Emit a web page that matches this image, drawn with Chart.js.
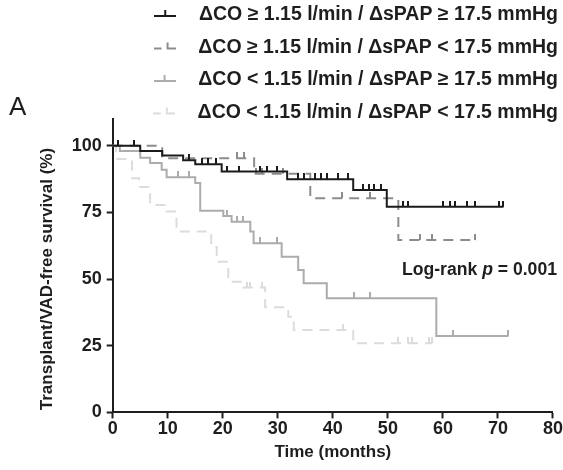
<!DOCTYPE html>
<html>
<head>
<meta charset="utf-8">
<script src="https://cdn.jsdelivr.net/npm/chart.js@4.4.0/dist/chart.umd.min.js"></script>
<style>
  html, body { margin: 0; padding: 0; background: #fff; }
</style>
</head>
<body>
<canvas id="km" width="563" height="470"></canvas>
<script>
const FONT = "'Liberation Sans', Arial, Helvetica, sans-serif";
const INK = '#1e1e1e';

const groupLabels = [
  'ΔCO ≥ 1.15 l/min / ΔsPAP ≥ 17.5 mmHg',
  'ΔCO ≥ 1.15 l/min / ΔsPAP < 17.5 mmHg',
  'ΔCO < 1.15 l/min / ΔsPAP ≥ 17.5 mmHg',
  'ΔCO < 1.15 l/min / ΔsPAP < 17.5 mmHg'
];

// step curves: month of each drop and survival (%) right after it, last entry = end of follow-up
const timesA = [0, 5, 9, 12.8, 15, 19.8, 31.7, 43.7, 49.8, 71];
const survA  = [100, 98, 96.3, 94.5, 93, 90.3, 87.4, 83.4, 77.1, 77.1];
const censorA = [1, 3.8, 13.9, 16.2, 17.4, 18.8, 20.7, 22.9, 26.8, 28, 29.8, 33.7, 34.8, 36.7, 37.9,
                 38.9, 40.9, 42.8, 45.5, 46.5, 47.5, 48.8, 52.8, 53.7, 60.1, 61.3, 62.2, 64.4, 65.9, 70.1, 71];

const timesB = [0, 9, 25.7, 35.9, 51.9, 65.9];
const survB  = [100, 95.3, 89.5, 80.3, 64.6, 64.6];
const censorB = [22.6, 23.9, 26, 27.2, 31, 41.6, 46.8, 55.9, 58, 65.9];

const timesC = [0, 1.3, 5, 6.8, 8.9, 9.8, 15, 15.9, 20.1, 21.6, 25, 25.6, 30.7, 33.7, 34.7, 38.9, 58.8, 71.9];
const survC  = [100, 98, 95.5, 93.5, 91, 88.2, 86, 75.6, 73.6, 71.5, 67.8, 63.4, 58.4, 53.4, 48.4, 42.8, 28.6, 28.6];
const censorC = [11.9, 13.9, 20.7, 22.5, 23.7, 26.8, 29.8, 43.9, 46.8, 61.9, 71.9];

const timesD = [0, 0.6, 3.5, 4.8, 6.8, 9.8, 11.6, 17.9, 18.9, 21, 23.7, 27.7, 31.9, 32.9, 43.7, 58];
const survD  = [100, 95, 87.8, 84.5, 77.8, 75.3, 67.8, 62, 56.5, 49, 46.8, 39.4, 35.9, 30.9, 25.9, 25.9];
const censorD = [24.4, 25, 27.1, 41.9, 51.9, 53.7, 54.4, 57.4, 58];

const yTicks = [0, 25, 50, 75, 100];

const groups = [
  { label: groupLabels[0], times: timesA, surv: survA, censor: censorA, color: '#1b1b1b', dash: [] },
  { label: groupLabels[1], times: timesB, surv: survB, censor: censorB, color: '#8c8c8c', dash: [10, 7] },
  { label: groupLabels[2], times: timesC, surv: survC, censor: censorC, color: '#acacac', dash: [] },
  { label: groupLabels[3], times: timesD, surv: survD, censor: censorD, color: '#dcdcdc', dash: [10, 7] }
];

// survival level of a curve at month t
function levelAt(times, surv, t) {
  let s = surv[0];
  for (let i = 0; i < times.length; i++) if (times[i] <= t) s = surv[i];
  return s;
}

// small upward tick used as the censoring mark
function censorMark(color) {
  const c = document.createElement('canvas');
  c.width = 2; c.height = 12;
  const g = c.getContext('2d');
  g.fillStyle = color;
  g.fillRect(0, 0, 2, 6);
  return c;
}

// line sample with a tick for the legend
function legendSample(color, dashed) {
  const c = document.createElement('canvas');
  c.width = 22; c.height = 12;
  const g = c.getContext('2d');
  g.fillStyle = color;
  if (dashed) { g.fillRect(0, 6, 8, 2); g.fillRect(13, 6, 9, 2); g.fillRect(13, 1, 2, 6); }
  else { g.fillRect(0, 6, 22, 2); g.fillRect(10, 1, 2, 6); }
  return c;
}

const datasets = [];
groups.forEach(g => {
  datasets.push({
    label: g.label,
    data: g.times.map((t, i) => ({ x: t, y: g.surv[i] })),
    stepped: 'before',
    borderColor: g.color,
    borderWidth: 2,
    borderDash: g.dash,
    pointRadius: 0,
    fill: false
  });
  datasets.push({
    label: g.label + ' censored',
    data: g.censor.map(t => ({ x: t, y: levelAt(g.times, g.surv, t) })),
    showLine: false,
    pointStyle: censorMark(g.color),
    pointRadius: 3,
    borderColor: g.color,
    backgroundColor: g.color
  });
});

const annotate = {
  id: 'annotate',
  afterLayout(chart) {
    // let the last legend row's descenders run past the legend box
    chart.legend.bottom += 8;
  },
  afterDraw(chart) {
    const { ctx, scales: { y } } = chart;
    ctx.save();
    ctx.fillStyle = INK;

    // y title, centred on the 0-100 % range
    ctx.save();
    ctx.font = `bold 17px ${FONT}`;
    ctx.translate(47, y.getPixelForValue(50));
    ctx.rotate(-Math.PI / 2);
    ctx.textAlign = 'center';
    ctx.textBaseline = 'middle';
    ctx.fillText('Transplant/VAD-free survival (%)', 0, 0);
    ctx.restore();

    // panel letter
    ctx.font = `26px ${FONT}`;
    ctx.textBaseline = 'alphabetic';
    ctx.fillText('A', 9, 115);

    // log-rank result with italic p
    let x = 402;
    const base = 275;
    ctx.font = `bold 17.6px ${FONT}`;
    ctx.fillText('Log-rank ', x, base);
    x += ctx.measureText('Log-rank ').width;
    ctx.font = `italic bold 17.6px ${FONT}`;
    ctx.fillText('p', x, base);
    x += ctx.measureText('p').width;
    ctx.font = `bold 17.6px ${FONT}`;
    ctx.fillText(' = 0.001', x, base);
    ctx.restore();
  }
};

new Chart(document.getElementById('km'), {
  type: 'line',
  data: { datasets },
  plugins: [annotate],
  options: {
    responsive: false,
    animation: false,
    layout: { padding: { top: -7.75, right: -8, left: 0, bottom: 0 } },
    plugins: {
      tooltip: { enabled: false },
      legend: {
        position: 'top',
        align: 'end',
        maxHeight: 126.75,
        labels: {
          usePointStyle: true,
          pointStyleWidth: 48,
          boxHeight: 19.5,
          padding: 13,
          color: INK,
          font: { family: FONT, size: 19.5, weight: 'bold' },
          generateLabels: () => groups.map((g, i) => ({
            text: g.label,
            pointStyle: legendSample(g.color, g.dash.length > 0),
            fillStyle: g.color,
            strokeStyle: g.color,
            lineWidth: 0,
            hidden: false,
            datasetIndex: i * 2,
            fontColor: INK
          }))
        }
      }
    },
    scales: {
      x: {
        type: 'linear',
        min: 0,
        max: 80,
        ticks: { stepSize: 10, padding: 0, color: INK, font: { family: FONT, size: 18, weight: 'bold' } },
        grid: { drawOnChartArea: false, tickLength: 6, tickWidth: 2, color: INK },
        border: { color: INK, width: 2 },
        title: {
          display: true,
          text: 'Time (months)',
          color: INK,
          font: { family: FONT, size: 17, weight: 'bold' },
          padding: { top: 0, bottom: 7 }
        },
        afterFit: s => { s.height = 57.6; }
      },
      y: {
        type: 'linear',
        min: 0,
        max: 110,
        afterBuildTicks: s => { s.ticks = yTicks.map(v => ({ value: v })); },
        ticks: { padding: 5, color: INK, font: { family: FONT, size: 18, weight: 'bold' } },
        grid: { drawOnChartArea: false, tickLength: 6, tickWidth: 2, color: INK },
        border: { color: INK, width: 2 },
        afterFit: s => { s.width = 112.7; }
      }
    }
  }
});
</script>
</body>
</html>
